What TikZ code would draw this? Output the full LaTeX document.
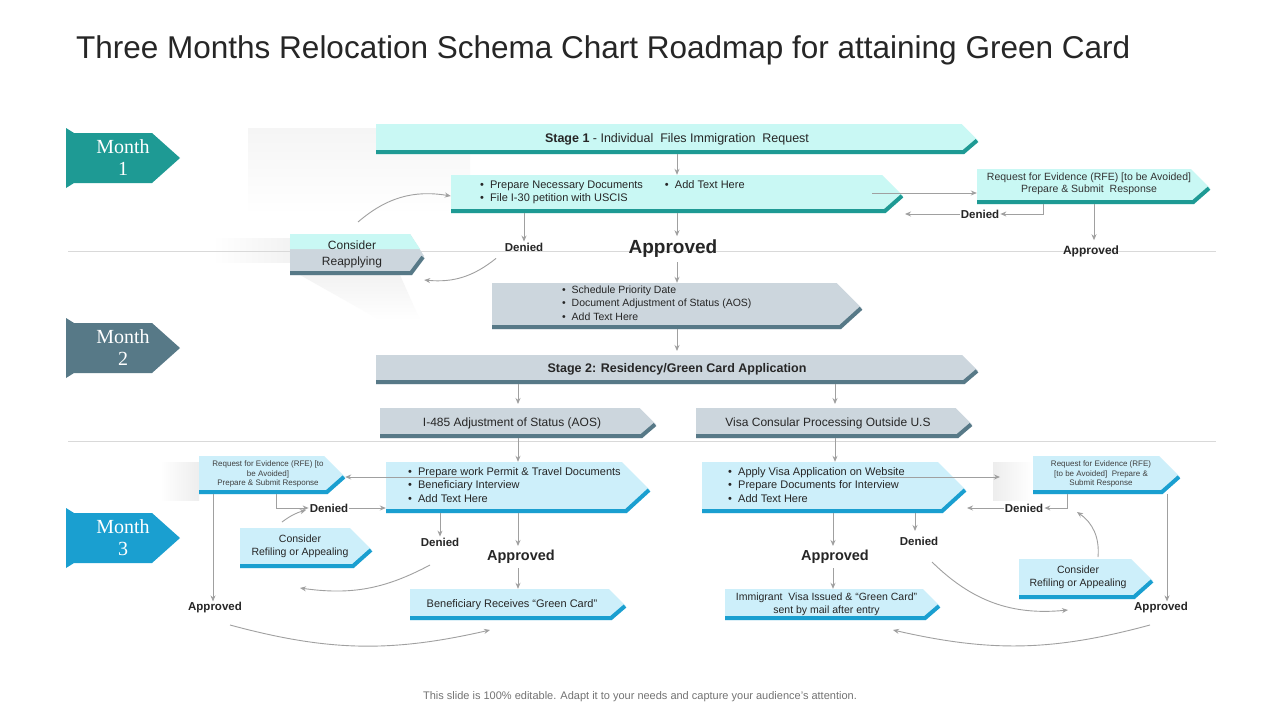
\documentclass[tikz,border=0pt]{standalone}
\usepackage{fontspec}
\setmainfont{Liberation Sans}
\newfontfamily\monthfont{Liberation Serif}
\usetikzlibrary{arrows.meta}
\definecolor{tealD}{HTML}{1E9A94}
\definecolor{tealL}{HTML}{C9F8F4}
\definecolor{slateD}{HTML}{577987}
\definecolor{slateL}{HTML}{CCD6DD}
\definecolor{blueD}{HTML}{1A9FD0}
\definecolor{blueL}{HTML}{CDEFFA}
\definecolor{arr}{HTML}{A0A0A0}
\newcommand\bnr[7]{%
 \fill[#6] (#2,#3) -- ({#4-0.55*(#5-#3)},#3) -- (#4,{#3+0.55*(#5-#3)}) -- ({#4-0.45*(#5-#3)},#5) -- (#2,#5) -- cycle;
 \draw[#7,line width=4pt] (#2,{#5-2}) -- ({#4-0.45*(#5-#3)-1},{#5-2}) -- ({#4-1},{#3+0.55*(#5-#3)});
 \node[inner sep=0,minimum width={(#4-#2)*1pt},minimum height={(#5-#3)*1pt}] (#1) at ({(#2+#4)/2},{(#3+#5)/2}) {};}
\newcommand\mon[4]{%
 \fill[#2] (66,{#1-30}) -- (74,{#1-25}) -- (152,{#1-25}) -- (180,#1) -- (152,{#1+25}) -- (74,{#1+25}) -- (66,{#1+30}) -- cycle;
 \node[text=white,font=\monthfont\fontsize{20}{22}\selectfont,align=center] (#3) at (123,#1) {Month\\#4};}
\tikzset{
 a/.style={arr,-{Stealth[length=6pt,width=5pt]},line width=0.9pt},
 t/.style={font=\fontsize{12}{14}\selectfont,text=black!85,inner sep=1pt},
 sm/.style={font=\fontsize{10.5}{12.5}\selectfont,text=black!80,align=center,inner sep=1pt},
 tiny/.style={font=\fontsize{8}{9.5}\selectfont,text=black!75,align=center,inner sep=1pt},
 bl/.style={font=\fontsize{11}{13}\selectfont,text=black!85,align=left,anchor=west,inner sep=0pt},
 lb/.style={font=\bfseries\fontsize{12}{14}\selectfont,text=black!85,inner sep=1pt},
 lbb/.style={font=\bfseries\fontsize{14.5}{17}\selectfont,text=black!85,inner sep=1pt},
}
\begin{document}
\begin{tikzpicture}[x=1pt,y=-1pt]
\useasboundingbox[fill=white] (0,0) rectangle (1280,720);
% shadows
\shade[top color=black!4,bottom color=white] (248,128) rectangle (470,215);
\shade[left color=white,right color=black!5] (212,238) rectangle (290,262);
\shade[top color=black!5,bottom color=white] (300,275) -- (400,275) -- (420,320) -- (380,320) -- cycle;
\shade[left color=white,right color=black!7] (160,462) rectangle (199,500);
\shade[left color=black!7,right color=white] (993,462) rectangle (1033,500);
\node[anchor=west,font=\fontsize{31.5}{34}\selectfont,text=black!85,inner sep=0] (title) at (76,50) {Three Months Relocation Schema Chart Roadmap for attaining Green Card};
\node[font=\fontsize{11}{13}\selectfont,text=black!55] (foot) at (640,697) {This slide is 100\% editable. Adapt it to your needs and capture your audience's attention.};
\draw[black!15,line width=0.8pt] (68,251) -- (1216,251) (68,441) -- (1216,441);
\mon{158}{tealD}{m1}{1}
\mon{348}{slateD}{m2}{2}
\mon{538}{blueD}{m3}{3}
% Month 1
\bnr{s1}{376}{124}{978}{154}{tealL}{tealD}
\node[t,font=\fontsize{12.5}{14}\selectfont] at (s1) {\textbf{Stage 1} - Individual\ \ Files Immigration\ \ Request};
\bnr{b1}{451}{175}{903}{213}{tealL}{tealD}
\node[bl] at (480,186) {•\ \ Prepare Necessary Documents\qquad•\ \ Add Text Here};
\node[bl] at (480,199) {•\ \ File I-30 petition with USCIS};
\bnr{rfe1}{977}{169}{1210}{204}{tealL}{tealD}
\node[sm] at (1089,184) {Request for Evidence (RFE) [to be Avoided]\\Prepare \& Submit\ \ Response};
\node[lb,font=\bfseries\fontsize{11.5}{13}\selectfont] (den1) at (980,214) {Denied};
\node[lb] (ap1) at (1091,251) {Approved};
\fill[slateL] (290,234) -- (410,234) -- (424,256) -- (412,275) -- (290,275) -- cycle;
\fill[tealL] (290,234) -- (410,234) -- (420,249) -- (290,249) -- cycle;
\draw[slateD,line width=4pt] (290,273) -- (411,273) -- (423,257);
\node[inner sep=0,minimum width=134pt,minimum height=41pt] (cr) at (357,254.5) {};
\node[t,align=center,font=\fontsize{12}{16}\selectfont] at (352,254) {Consider\\Reapplying};
\node[lb,font=\bfseries\fontsize{11.5}{13}\selectfont] (den2) at (524,247) {Denied};
\node[lb,font=\bfseries\fontsize{19}{22}\selectfont] (ap2) at (673,249) {Approved};
\bnr{b2}{492}{283}{862}{329}{slateL}{slateD}
\node[bl,font=\fontsize{10.5}{12}\selectfont] at (562,291) {•\ \ Schedule Priority Date};
\node[bl,font=\fontsize{10.5}{12}\selectfont] at (562,304) {•\ \ Document\ Adjustment of Status (AOS)};
\node[bl,font=\fontsize{10.5}{12}\selectfont] at (562,317) {•\ \ Add Text Here};
\draw[a] (s1.south -| b1) -- (b1.north);
\draw[a] (b1.south -| den2) -- (den2.north);
\draw[a] (b1.south -| ap2) ++(4,0) -- ++(0,23);
\draw[a] (872,193) -- (rfe1.west |- 0,193);
\draw[a] (1043,204) |- (den1.east);
\draw[a] (den1.west) -- (905,214);
\draw[a] (rfe1.south -| ap1) ++(3,0) -- ++(0,36);
\draw[a] (den2.south) ++(-28,6) to[bend left=22] (cr.east |- 0,280);
\draw[a] (358,222) to[bend left=25] (b1.west |- 0,196);
\draw[a] (677,262) -- (b2.north -| 677,0);
\draw[a] (b2.south -| 677,0) -- (677,351);
% Month 2
\bnr{s2}{376}{355}{978}{384}{slateL}{slateD}
\node[t,font=\bfseries\fontsize{12.5}{14}\selectfont] at (s2) {Stage 2: Residency/Green Card Application};
\bnr{aos}{380}{408}{656}{438}{slateL}{slateD}
\node[t] at ([xshift=-6pt]aos.center) {I-485 Adjustment of Status (AOS)};
\bnr{visa}{696}{408}{972}{438}{slateL}{slateD}
\node[t] at ([xshift=-6pt]visa.center) {Visa Consular Processing Outside U.S};
\draw[a] (s2.south -| 518,0) -- (518,404);
\draw[a] (s2.south -| 835,0) -- (835,404);
% Month 3 left
\bnr{rfeL}{199}{456}{345}{494}{blueL}{blueD}
\node[tiny] at (268,474) {Request for Evidence (RFE) [to\\be Avoided]\\Prepare \& Submit Response};
\node[lb,font=\bfseries\fontsize{11.5}{13}\selectfont] (denL) at (329,508) {Denied};
\bnr{crL}{240}{528}{372}{568}{blueL}{blueD}
\node[t,align=center,font=\fontsize{10.5}{13}\selectfont] at (300,546) {Consider\\Refiling or Appealing};
\bnr{b3}{386}{462}{650}{513}{blueL}{blueD}
\node[bl] at (408,473) {•\ \ Prepare work Permit \& Travel Documents};
\node[bl] at (408,486) {•\ \ Beneficiary Interview};
\node[bl] at (408,499) {•\ \ Add Text Here};
\node[lb,font=\bfseries\fontsize{11.5}{13}\selectfont] (den3) at (440,542) {Denied};
\node[lbb] (ap3) at (521,557) {Approved};
\bnr{grn}{410}{589}{626}{620}{blueL}{blueD}
\node[t,font=\fontsize{11}{13}\selectfont] at ([xshift=-6pt]grn.center) {Beneficiary Receives “Green Card”};
\node[lb,font=\bfseries\fontsize{11.5}{13}\selectfont] (apL) at (215,608) {Approved};
\draw[a] (aos.south -| 518,0) -- (b3.north -| 518,0);
\draw[a] (470,477) -- (rfeL.east |- 0,477);
\draw[a] (276,494) |- (denL.west);
\draw[a] (denL.east) -- (b3.west |- denL);
\draw[a] (282,522) to[bend left=10] (306,510);
\draw[a] (b3.south -| den3) -- (den3.north);
\draw[a] (b3.south -| 518,0) -- (518,546);
\draw[a] (518,568) -- (grn.north -| 518,0);
\draw[a] (430,565) to[bend left=18] (300,588);
\draw[a] (213,494) -- (apL.north -| 213,0);
\draw[a] (230,625) to[bend right=14] (490,630);
% Month 3 right
\bnr{b4}{702}{462}{966}{513}{blueL}{blueD}
\node[bl] at (728,473) {•\ \ Apply Visa Application on Website};
\node[bl] at (728,486) {•\ \ Prepare Documents\ for Interview};
\node[bl] at (728,499) {•\ \ Add Text Here};
\bnr{rfeR}{1033}{456}{1180}{494}{blueL}{blueD}
\node[tiny] at (1101,474) {Request for Evidence (RFE)\\[0pt] [to be Avoided]\ \ Prepare \&\\Submit Response};
\node[lb,font=\bfseries\fontsize{11.5}{13}\selectfont] (denR) at (1024,508) {Denied};
\bnr{crR}{1019}{559}{1153}{599}{blueL}{blueD}
\node[t,align=center,font=\fontsize{10.5}{13}\selectfont] at (1078,577) {Consider\\Refiling or Appealing};
\node[lbb] (ap4) at (835,557) {Approved};
\node[lb,font=\bfseries\fontsize{11.5}{13}\selectfont] (den4) at (919,541) {Denied};
\bnr{imm}{725}{589}{940}{620}{blueL}{blueD}
\node[t,align=center,font=\fontsize{10.5}{13}\selectfont] at ([xshift=-6pt]imm.center) {Immigrant\ \ Visa Issued \& “Green Card”\\sent by mail after entry};
\node[lb,font=\bfseries\fontsize{11.5}{13}\selectfont] (apR) at (1161,608) {Approved};
\draw[a] (visa.south -| 835,0) -- (b4.north -| 835,0);
\draw[a] (880,477) -- (1000,477);
\draw[a] (1067,494) |- (denR.east);
\draw[a] (denR.west) -- (967,508);
\draw[a] (1098,557) to[bend right=30] (1077,512);
\draw[a] (b4.south -| 833,0) -- (833,546);
\draw[a] (833,568) -- (imm.north -| 833,0);
\draw[a] (b4.south -| 915,0) -- (915,531);
\draw[a] (932,562) to[bend right=25] (1068,610);
\draw[a] (1167,494) -- (apR.north -| 1167,0);
\draw[a] (1150,625) to[bend left=14] (893,630);
\end{tikzpicture}
\end{document}
